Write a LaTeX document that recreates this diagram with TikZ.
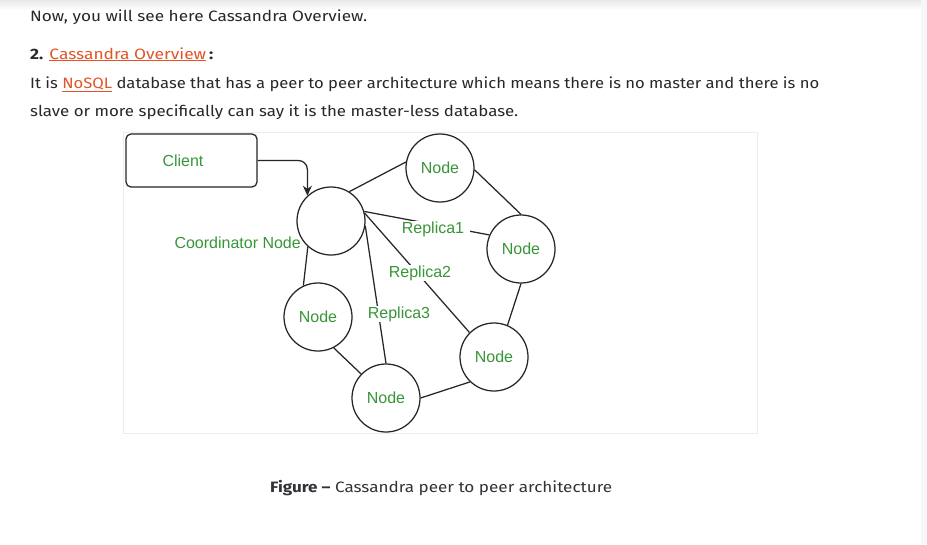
\documentclass[tikz,border=0pt]{standalone}
\usepackage{fontspec}
\usepackage{graphicx}
\setmainfont{Fira Sans}
\newfontfamily\diagfont{Liberation Sans}
\usetikzlibrary{arrows.meta}
\definecolor{txt}{RGB}{40,40,44}
\definecolor{linkc}{RGB}{226,84,38}
\definecolor{grn}{RGB}{56,150,56}
\definecolor{capc}{RGB}{50,50,56}
\tikzset{
  pagetext/.style={anchor=base west, inner sep=0pt, text=txt, font=\fontsize{15}{17}\selectfont},
  peer/.style={circle, draw=black!85, line width=1.25pt, minimum size=68pt, inner sep=0pt, text=grn, font=\diagfont\fontsize{16}{18}\selectfont},
  link/.style={draw=black!85, line width=1.25pt},
  lbl/.style={text=grn, font=\diagfont\fontsize{16}{18}\selectfont, inner sep=1pt},
  replbl/.style={lbl, fill=white, inner xsep=6pt},
}
\begin{document}
\begin{tikzpicture}[x=1pt,y=-1pt]
\useasboundingbox (0,0) rectangle (927,544);
\fill[white] (0,0) rectangle (927,544);
\shade[top color=black!9, bottom color=white, shading angle=0] (0,0) rectangle (927,10);
\fill[black!3] (921,0) rectangle (927,544);
% page text
\node[pagetext] (l1) at (30,21) {\resizebox{337pt}{\height}{Now, you will see here Cassandra Overview.}};
\node[pagetext] (l2) at (30,59) {\resizebox{183pt}{\height}{\textbf{2.} \textcolor{linkc}{\underline{Cassandra Overview}}\,\textbf{:}}};
\node[pagetext] (l3) at (30,88) {\resizebox{789pt}{\height}{It is \textcolor{linkc}{\underline{NoSQL}} database that has a peer to peer architecture which means there is no master and there is no}};
\node[pagetext] (l4) at (30,116) {\resizebox{488pt}{\height}{slave or more specifically can say it is the master-less database.}};
% diagram panel
\draw[black!7, fill=white] (123,132) rectangle (757,433);
% client
\node[draw=black!85, line width=1.25pt, rounded corners=5pt, minimum width=131pt, minimum height=53pt, inner sep=0pt] (client) at (191.5,160.5) {};
\node[lbl] (clienttxt) at (183,161) {Client};
% peers
\node[peer] (coord) at (331,221) {};
\node[peer] (top) at (440,168) {Node};
\node[peer] (right) at (521,249) {Node};
\node[peer] (left) at (318,317) {Node};
\node[peer] (bot) at (386,398) {Node};
\node[peer] (br) at (494,357) {Node};
\node[lbl, anchor=east] (coordtxt) at (302,243) {Coordinator Node};
% ring links
\draw[link] (coord.58) -- (top.170);
\draw[link] (top.-3) -- (right.90);
\draw[link] (right.-90) -- (br.67);
\draw[link] (br.226) -- (bot.0);
\draw[link] (bot.136) -- (left.-63);
\draw[link] (left.115) -- (coord.228);
% replica links
\draw[link] (coord.16) -- (right.156);
\draw[link] (coord.13) -- (br.135);
\draw[link] (coord.-8) -- (bot.90);
\node[replbl] (r1) at (433,229) {Replica1};
\node[replbl] (r2) at (420,273) {Replica2};
\node[replbl] (r3) at (399,314) {Replica3};
% client arrow
\draw[link, rounded corners=9pt, -{Stealth[length=10pt,width=9pt]}] (client.east) -| (coord.133);
% caption
\node[anchor=base west, inner sep=0pt, text=capc, font=\fontsize{15}{17}\selectfont] (cap) at (270,492) {\resizebox{342pt}{\height}{\textbf{Figure –} Cassandra peer to peer architecture}};
\end{tikzpicture}
\end{document}
